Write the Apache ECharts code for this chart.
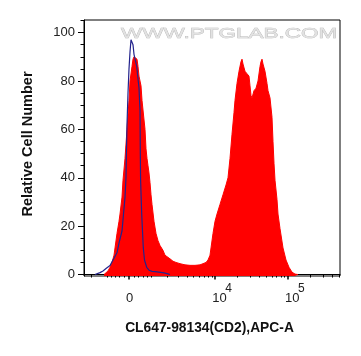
<!DOCTYPE html>
<html><head><meta charset="utf-8">
<script src="https://cdn.jsdelivr.net/npm/echarts@6/dist/echarts.min.js"></script>
<style>html,body{margin:0;padding:0;background:#fff}#c{width:361px;height:356px}</style>
</head><body><div id="c"></div>
<script>
// Histogram data in display channels (0..256) of the biexponential APC-A axis
const redCh = [20,22,24,26,28,30,31,33,35,36,38,39,41,43,45,46,48,49,50,52,53,54,55,57,58,59,61,62,63,64,65,66,67,68,70,72,74,76,79,81,83,86,89,92,96,101,106,111,116,119,122,124,126,127,129,131,133,136,139,142,144,146,148,150,151,153,155,157,158,159,161,163,165,166,167,168,170,172,174,176,177,178,179,181,183,184,186,188,189,190,191,193,194,196,199,202,205,208,211,214];
const redCount = [0,0.5,1.5,3,5,8,11,17,22,25,32,39,48,60,72,80,86,89,90,90,89,86,82,78,72,68,60,52,48,45,42,38,33,29,22,17,14,12,10,8,7.5,6.5,5.5,5,4.5,4,3.8,3.8,4,4.5,5,6,8,11,17,22,25,29,33,37,40,48,58,67,72,79,84,88,89,87,84,83,82,78,74,73,76,77,80,86,88,89,87,84,79,76,73,65,55,46,39,31,25,19,11,6,3,1,0.2,0];
const blueCh = [11,13,16,19,22,26,29,33,35,38,39.5,41,42,42.5,43,44,45,46,47,48,49,50,52.7,55,56,56.3,56.6,57.7,59.3,60.5,62.7,65,68,71,75,80,84,86];
const blueCount = [0,0.3,0.8,1.5,2.5,3.7,6,9,13,18,25,32,40,52,62,75,85,92,97,97.5,95,91,86,77,68,50,39,25,11,6,3,1.8,1.3,1.2,1.0,0.7,0.3,0];
const yMajor = [0,20,40,60,80,100];
const yMinor = [5,10,15,25,30,35,45,50,55,65,70,75,85,90,95,105];
const xMajorValues = [0,1e4,1e5];
const xMajorExp = ['', '4', '5'];
const xMinorValues = [-2000,-1000,-800,-600,-400,-200,200,400,600,800,1000,2000,3000,4000,5000,6000,7000,8000,9000,20000,30000,40000,50000,60000,70000,80000,90000,200000,300000,400000,500000];

function ch(v){ return 45 + 73*Math.asinh(v/1326)/Math.LN10; }
const FF = 'Liberation Sans, Arial, sans-serif';
const majorCh = xMajorValues.map(ch);

const chart = echarts.init(document.getElementById('c'));
chart.setOption({
  animation:false,
  backgroundColor:'#fff',
  grid:{left:84, top:20, width:256, height:256, show:true, borderColor:'#000', borderWidth:1, containLabel:false},
  xAxis:[{
    type:'value', min:0, max:256, position:'bottom',
    axisLine:{show:true, lineStyle:{color:'#000', width:1}},
    splitLine:{show:false},
    axisTick:{show:true, customValues:majorCh, length:5, lineStyle:{color:'#000', width:1.5}},
    axisLabel:{show:true, customValues:majorCh, align:'left', margin:7, padding:[0,0,0,-3],
      formatter:function(val){
        let idx = 0, best = 1e9;
        majorCh.forEach((c,i)=>{ const d=Math.abs(c-val); if(d<best){best=d; idx=i;} });
        if (xMajorValues[idx]===0) return '{z|0}';
        return '{a|10}{b|' + xMajorExp[idx] + '}';
      },
      rich:{
        z:{fontSize:13, fontFamily:FF, color:'#222', lineHeight:22, verticalAlign:'bottom'},
        a:{fontSize:13, fontFamily:FF, color:'#222', lineHeight:22, verticalAlign:'bottom', width:13, align:'left'},
        b:{fontSize:12, fontFamily:FF, color:'#222', lineHeight:8, verticalAlign:'top', align:'left'}
      }
    }
  },{
    type:'value', min:0, max:256, position:'bottom', offset:0,
    axisLine:{show:false}, splitLine:{show:false}, axisLabel:{show:false},
    axisTick:{show:true, customValues:xMinorValues.map(ch), length:3, lineStyle:{color:'#000', width:1}}
  }],
  yAxis:[{
    type:'value', min:-0.6, max:105.2, position:'left',
    axisLine:{show:true, lineStyle:{color:'#000', width:1}},
    splitLine:{show:false},
    axisTick:{show:true, customValues:yMajor, length:6, lineStyle:{color:'#000', width:1}},
    axisLabel:{show:true, customValues:yMajor, margin:9, fontSize:13, fontFamily:FF, color:'#222'}
  },{
    type:'value', min:-0.6, max:105.2, position:'left', offset:0,
    axisLine:{show:false}, splitLine:{show:false}, axisLabel:{show:false},
    axisTick:{show:true, customValues:yMinor, length:3.5, lineStyle:{color:'#000', width:1}}
  }],
  series:[{
    type:'line', xAxisIndex:0, yAxisIndex:0, symbol:'none', smooth:false,
    data: redCh.map((c,i)=>[c, redCount[i]]),
    lineStyle:{color:'#ff0000', width:1},
    areaStyle:{color:'#ff0000', opacity:1, origin:'start'},
    itemStyle:{color:'#ff0000'}, z:2
  },{
    type:'line', xAxisIndex:0, yAxisIndex:0, symbol:'none', smooth:false,
    data: blueCh.map((c,i)=>[c, blueCount[i]]),
    lineStyle:{color:'#23238c', width:1.2},
    itemStyle:{color:'#23238c'}, z:3
  }],
  graphic:[{
    type:'text', x:121, y:34, scaleX:1.5, z:1, silent:true,
    style:{text:'WWW.PTGLAB.COM', font:'15px '+FF, fill:'#e2e2e2', stroke:'#b4b4b4', lineWidth:0.6,
      align:'left', verticalAlign:'middle', textAlign:'left', textVerticalAlign:'middle'}
  },{
    type:'text', x:27.5, y:144, rotation:Math.PI/2, silent:true,
    style:{text:'Relative Cell Number', font:'bold 14.5px '+FF, fill:'#111',
      align:'center', verticalAlign:'middle', textAlign:'center', textVerticalAlign:'middle'}
  },{
    type:'text', x:209.5, y:328, silent:true,
    style:{text:'CL647-98134(CD2),APC-A', font:'bold 13.8px '+FF, fill:'#111',
      align:'center', verticalAlign:'middle', textAlign:'center', textVerticalAlign:'middle'}
  }]
});
</script></body></html>
